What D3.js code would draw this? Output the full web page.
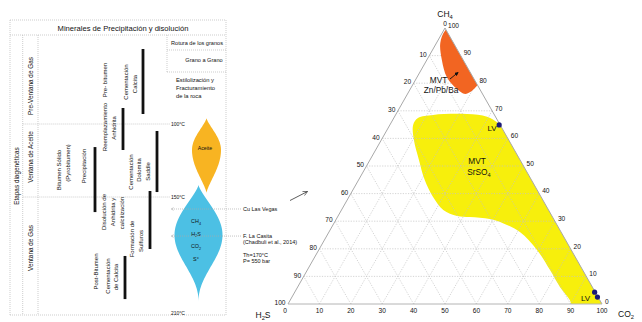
<!DOCTYPE html>
<html><head><meta charset="utf-8">
<script src="https://cdn.jsdelivr.net/npm/d3@7"></script>
<style>
body{margin:0;background:#fff}
svg{display:block}
text{font-family:"Liberation Sans",Arial,sans-serif;fill:#111}
</style>
</head><body>
<svg id="c" width="642" height="322"></svg>
<script>
// ---------------- DATA ----------------
const headerTitle = "Minerales de Precipitación y disolución";
const stageAxisTitle = "Etapas diagenéticas";
const stageNames = ["Pre-Ventana de Gas", "Ventana de Aceite", "Ventana de Gas"];
const stageBounds = [60, 100, 150, 210];          // °C, stage limits
const tempLabels = [100, 150, 210];               // °C labels
const rockRows = [["Rotura de los granos"], ["Grano a Grano"], ["Estilolización y", "Fracturamiento", "de la roca"]];

const processLabels = [
  ["Pre- bitumen"],
  ["Cementación", "Calcita"],
  ["Reemplazamiento", "Anhidrita"],
  ["Bitumen Sólido", "(Pyrobitumen)"],
  ["Precipitación"],
  ["Cementación", "Dolomita", "Saddle"],
  ["Disolución de", "Anhidrita y", "calcitización"],
  ["Formación de", "Sulfuros"],
  ["Post-Bitumen"],
  ["Cementación", "de Calcita"]
];
// process bars: temperature ranges (°C)
const barNames  = ["Cementación Calcita", "Reemplazamiento Anhidrita", "Cementación Dolomita Saddle",
                   "Precipitación Bitumen", "Formación de Sulfuros", "Cementación de Calcita (post)"];
const barStart  = [66.3, 92.8, 104.8, 115.8, 145.9, 180.5];
const barEnd    = [95.5, 117.8, 146.6, 157.8, 176.9, 202.8];

// fluid drops (°C): top, widest, bottom
const dropNames  = ["Aceite", "Gas"];
const dropTop    = [97.4, 141.8];
const dropPeak   = [117.8, 169.7];
const dropBottom = [147.1, 204.3];
const gasSpecies = ["CH4", "H2S", "CO2", "S°"];

// annotations pointing at the temperature column
const noteTemps = [156.2, 170.2];
const noteTexts = [["Cu Las Vegas"], ["F. La Casita", "(Chadbuli et al., 2014)", "", "Th=170°C", "P= 550 bar"]];

// ternary diagram (values in %: [CO2, CH4], H2S = 100 - CO2 - CH4)
const vertexNames = ["CH4", "H2S", "CO2"];
const tickValues = [0, 10, 20, 30, 40, 50, 60, 70, 80, 90, 100];
const zoneZnPbBa = [[0.5, 99], [2, 101], [10, 93], [20, 83], [20.5, 78.5], [18.4, 76.1],
                    [14.9, 77.9], [9.5, 82.2], [4.8, 88.4], [1.2, 94.6]];
const zoneSrSO4 = [[7.7, 67.4], [12.0, 68.5], [22.6, 68.8], [29.5, 67.8], [34.1, 65.6], [38, 63.2],
                   [60, 42], [85, 17], [101, 1], [101, -1.5], [91.4, -1.5], [89.1, 1.4], [83.5, 6.2],
                   [77.3, 12.3], [69.5, 19.6], [60.8, 26.1], [53.8, 29.3], [48.9, 30.8], [42.2, 31.5],
                   [37.9, 31.9], [32.4, 34.1], [26.8, 38.8], [21.1, 44.9], [15.6, 52.2], [10.4, 59.4], [7.4, 64.9]];
const zoneNames = [["MVT", "Zn/Pb/Ba"], ["MVT", "SrSO4"]];
const lvPoints = [[34.8, 64.9], [95.5, 4.3], [97.3, 2.5]];
const lvLabel = "LV";

// ---------------- DRAWING ----------------
const svg = d3.select("#c");
const defs = svg.append("defs");
defs.append("marker").attr("id", "arrGray").attr("viewBox", "0 0 10 10").attr("refX", 9).attr("refY", 5)
  .attr("markerWidth", 5).attr("markerHeight", 5).attr("orient", "auto")
  .append("path").attr("d", "M1,1 L9,5 L1,9").attr("fill", "none").attr("stroke", "#999").attr("stroke-width", 1.2);
defs.append("marker").attr("id", "arrOpen").attr("viewBox", "0 0 10 10").attr("refX", 9).attr("refY", 5)
  .attr("markerWidth", 7).attr("markerHeight", 7).attr("orient", "auto")
  .append("path").attr("d", "M1,1 L9,5 L1,9").attr("fill", "none").attr("stroke", "#333").attr("stroke-width", 1.1);
defs.append("marker").attr("id", "arrBlack").attr("viewBox", "0 0 10 10").attr("refX", 8).attr("refY", 5)
  .attr("markerWidth", 4.5).attr("markerHeight", 4.5).attr("orient", "auto")
  .append("path").attr("d", "M0,0 L10,5 L0,10 Z").attr("fill", "#111");

function chem(sel, str, size) {
  // render digits in chemical formulas as subscripts
  const parts = str.split(/(\d)/).filter(s => s !== "");
  let sub = false;
  parts.forEach(p => {
    const isD = /^\d$/.test(p);
    const t = sel.append("tspan").text(p);
    if (isD) { t.attr("dy", size * 0.28).style("font-size", (size * 0.68) + "px"); sub = true; }
    else if (sub) { t.attr("dy", -size * 0.28); sub = false; }
  });
}

// ----- left table -----
const T = svg.append("g");
const X0 = 10, XC1 = 22.7, XC2 = 38, XD = 167, XR = 226, YT = 20, YH = 35, YB = 315;
const tY = d3.scaleLinear().domain(stageBounds).range([YH, 124, 197, 313]);
const lineStyle = s => s.attr("stroke", "#b8b8b8").attr("stroke-width", 0.7).attr("stroke-dasharray", "1,1").attr("fill", "none");
function seg(x1, y1, x2, y2) { T.append("line").attr("x1", x1).attr("y1", y1).attr("x2", x2).attr("y2", y2).call(lineStyle); }
seg(X0, YT, XR, YT); seg(X0, YT, X0, YB); seg(XR, YT, XR, YB); seg(X0, YB, XR, YB);
seg(X0, YH, XR, YH); seg(XC1, YH, XC1, YB); seg(XC2, YH, XC2, YB);
seg(XD, 50, XR, 50); seg(XD, 72, XR, 72); seg(XD, YH, XD, 72);
// stage separators
stageBounds.slice(1, 3).forEach(t => seg(XC1, tY(t), 170, tY(t)));

T.append("text").attr("x", 123).attr("y", 30.5).attr("text-anchor", "middle").style("font-size", "7.6px").text(headerTitle);

function vtext(x, y, str, size) {
  return T.append("text").attr("transform", `translate(${x},${y}) rotate(-90)`)
    .attr("text-anchor", "middle").attr("dominant-baseline", "central").style("font-size", size + "px").text(str);
}
vtext(16.3, 176, stageAxisTitle, 6.4);
const stageLabelY = [86, 157, 248];
stageNames.forEach((s, i) => vtext(30.8, stageLabelY[i], s, 6.4));

// rock behaviour rows
T.append("text").attr("x", 197).attr("y", 44.5).attr("text-anchor", "middle").style("font-size", "5.6px").text(rockRows[0][0]);
T.append("text").attr("x", 204).attr("y", 61.5).attr("text-anchor", "middle").style("font-size", "5.6px").text(rockRows[1][0]);
rockRows[2].forEach((l, i) => T.append("text").attr("x", 176).attr("y", 82 + i * 8).style("font-size", "5.8px").text(l));

// process labels (layout)
const labelLayout = [
  {x: [105], y: [80]},
  {x: [126, 135], y: [82, 84]},
  {x: [104.5, 114], y: [127, 128]},
  {x: [59, 67.5], y: [170, 163]},
  {x: [83.5], y: [166]},
  {x: [130.5, 139, 147.5], y: [172, 170, 171.5]},
  {x: [104, 113, 121.5], y: [212, 212, 213]},
  {x: [132, 141], y: [239, 241]},
  {x: [95.5], y: [271.5]},
  {x: [108, 115.5], y: [276, 277]}
];
processLabels.forEach((lines, i) => lines.forEach((l, j) => vtext(labelLayout[i].x[j], labelLayout[i].y[j], l, 6)));

// process bars
const barX = [143, 123, 157, 95, 150, 125];
T.selectAll("line.bar").data(barNames).join("line").attr("class", "bar")
  .attr("x1", (d, i) => barX[i]).attr("x2", (d, i) => barX[i])
  .attr("y1", (d, i) => tY(barStart[i])).attr("y2", (d, i) => tY(barEnd[i]))
  .attr("stroke", "#111").attr("stroke-width", 2.8);

// temperature labels
tempLabels.forEach(t => T.append("text").attr("x", 171).attr("y", tY(t) + 1.8).style("font-size", "5px").text(t + "°C"));

// drops
function dropPts(i, cx, halfW, pUp, pDown) {
  const y0 = tY(dropTop[i]), yp = tY(dropPeak[i]), y1 = tY(dropBottom[i]);
  const right = [];
  const N = 40;
  for (let k = 0; k <= N; k++) {
    const y = y0 + (yp - y0) * k / N;
    const u = k / N;
    right.push([cx + halfW * Math.pow(Math.sin(u * Math.PI / 2), pUp), y]);
  }
  for (let k = 1; k <= N; k++) {
    const y = yp + (y1 - yp) * k / N;
    const u = 1 - k / N;
    right.push([cx + halfW * Math.pow(Math.sin(u * Math.PI / 2), pDown), y]);
  }
  const left = right.slice().reverse().map(([x, y]) => [2 * cx - x, y]);
  return right.concat(left);
}
const dropColors = ["#f8b422", "#4cc0e4"];
const dropCx = [206.5, 198.5];
const dropW = [14.5, 24];
const dropPow = [[1.3, 1.3], [1.3, 2.2]];
dropNames.forEach((n, i) => {
  T.append("path").attr("d", d3.line()(dropPts(i, dropCx[i], dropW[i], dropPow[i][0], dropPow[i][1])) + "Z")
    .attr("fill", dropColors[i]);
});
T.append("text").attr("x", dropCx[0] - 1.5).attr("y", tY(dropPeak[0]) + 0.5).attr("text-anchor", "middle")
  .style("font-size", "5.2px").text(dropNames[0]);
gasSpecies.forEach((s, i) => {
  const t = T.append("text").attr("x", dropCx[1] - 2.5).attr("y", tY(dropPeak[1]) - 12 + i * 12.7)
    .attr("text-anchor", "middle").style("font-size", "5.4px");
  if (s === "S°") t.text(s); else chem(t, s, 5.4);
});

// annotations
noteTemps.forEach((t, i) => {
  const y = tY(t);
  T.append("line").attr("x1", 241).attr("x2", 171).attr("y1", y).attr("y2", y)
    .attr("stroke", "#aaa").attr("stroke-width", 0.7).attr("stroke-dasharray", "1,1").attr("marker-end", "url(#arrGray)");
  noteTexts[i].forEach((l, j) => T.append("text").attr("x", 243).attr("y", y + 2 + j * 6.2).style("font-size", "5.5px").text(l));
});

// ----- ternary -----
const G = svg.append("g");
const L = 288, Wd = 314, B = 304, H = 276;
const sx = d3.scaleLinear().domain([0, 100]).range([0, Wd]);
const sy = d3.scaleLinear().domain([0, 100]).range([B, B - H]);
const pt = ([co2, ch4]) => [L + sx(co2) + sx(ch4) / 2, sy(ch4)];
const tri = [pt([0, 100]), pt([0, 0]), pt([100, 0])];

defs.append("clipPath").attr("id", "triClip").append("path").attr("d", d3.line()(tri) + "Z");

const blob = d3.line().curve(d3.curveCatmullRomClosed.alpha(0.5));
// SrSO4 zone
G.append("path").attr("d", blob(zoneSrSO4.map(pt))).attr("fill", "#f7ef0c").attr("clip-path", "url(#triClip)");

// grid
const gridG = G.append("g").attr("stroke", "#c4c4c4").attr("stroke-width", 0.8).attr("stroke-dasharray", "1.2,1.4").attr("opacity", 0.9);
tickValues.filter(v => v > 0 && v < 100).forEach(v => {
  [[pt([0, v]), pt([100 - v, v])], [pt([v, 0]), pt([v, 100 - v])], [pt([100 - v, 0]), pt([0, 100 - v])]]
    .forEach(([a, b]) => gridG.append("line").attr("x1", a[0]).attr("y1", a[1]).attr("x2", b[0]).attr("y2", b[1]));
});

// Zn/Pb/Ba zone
G.append("path").attr("d", blob(zoneZnPbBa.map(pt))).attr("fill", "#f26522").attr("clip-path", "url(#triClip)");

// edges
G.append("line").attr("x1", tri[0][0]).attr("y1", tri[0][1]).attr("x2", tri[1][0]).attr("y2", tri[1][1]).attr("stroke", "#a8a8a8").attr("stroke-width", 1);
G.append("line").attr("x1", tri[0][0]).attr("y1", tri[0][1]).attr("x2", tri[2][0]).attr("y2", tri[2][1]).attr("stroke", "#a8a8a8").attr("stroke-width", 1);
G.append("line").attr("x1", tri[1][0]).attr("y1", tri[1][1]).attr("x2", tri[2][0]).attr("y2", tri[2][1]).attr("stroke", "#b4b4b4").attr("stroke-width", 1);

// tick labels
const tk = G.append("g").style("font-size", "6.6px");
tickValues.forEach(v => {
  // H2S along left edge
  const a = pt([0, 100 - v]);
  if (v === 0) tk.append("text").attr("x", a[0]).attr("y", a[1] - 2).attr("text-anchor", "middle").text(v);
  else tk.append("text").attr("x", a[0] - 2.5).attr("y", a[1] + 1.2).attr("text-anchor", "end").text(v);
  // CH4 along right edge
  const b = pt([100 - v, v]);
  tk.append("text").attr("x", b[0] + 3).attr("y", b[1] - 0.3).attr("text-anchor", "start").text(v);
  // CO2 along bottom
  const c = pt([v, 0]);
  tk.append("text").attr("x", c[0] - (v === 0 ? 3 : 0)).attr("y", c[1] + 9).attr("text-anchor", "middle").text(v);
});

// vertex names
const vpos = [[pt([0, 100])[0], 17], [263, 318], [626, 317]];
vertexNames.forEach((n, i) => {
  const t = G.append("text").attr("x", vpos[i][0]).attr("y", vpos[i][1]).attr("text-anchor", "middle").style("font-size", "8.5px");
  chem(t, n, 8.5);
});

// zone labels
zoneNames[0].forEach((l, j) => G.append("text").attr("x", j === 0 ? 438.5 : 441).attr("y", 83 + j * 9.5)
  .attr("text-anchor", "middle").style("font-size", "8.3px").text(l));
G.append("line").attr("x1", 450).attr("y1", 79).attr("x2", 458).attr("y2", 72.5)
  .attr("stroke", "#111").attr("stroke-width", 0.9).attr("marker-end", "url(#arrBlack)");
zoneNames[1].forEach((l, j) => {
  const t = G.append("text").attr("x", j === 0 ? 477 : 479).attr("y", 164 + j * 10.5)
    .attr("text-anchor", "middle").style("font-size", "8.3px");
  chem(t, l, 8.3);
});

// LV points
G.selectAll("circle.lv").data(lvPoints).join("circle").attr("class", "lv")
  .attr("cx", d => pt(d)[0]).attr("cy", d => pt(d)[1]).attr("r", 2.6).attr("fill", "#1c1a78");
G.append("text").attr("x", pt(lvPoints[0])[0] - 2.5).attr("y", pt(lvPoints[0])[1] + 6.5).attr("text-anchor", "end").style("font-size", "8px").text(lvLabel);
G.append("text").attr("x", pt(lvPoints[1])[0] - 4.5).attr("y", pt(lvPoints[2])[1] + 3.5).attr("text-anchor", "end").style("font-size", "8px").text(lvLabel);

// pointer arrow
G.append("line").attr("x1", 290).attr("y1", 200.5).attr("x2", 307.5).attr("y2", 191.5)
  .attr("stroke", "#333").attr("stroke-width", 0.8).attr("marker-end", "url(#arrOpen)");
</script>
</body></html>
